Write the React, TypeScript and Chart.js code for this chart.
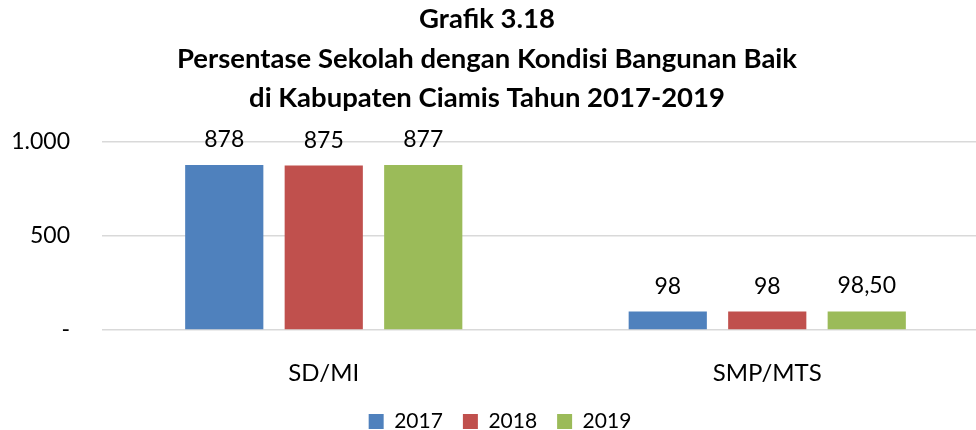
import React, { useEffect, useRef } from 'react';
import { Chart, registerables } from 'chart.js';

Chart.register(...registerables);

const titleLines = [
  'Grafik 3.18',
  'Persentase Sekolah dengan Kondisi Bangunan Baik',
  'di Kabupaten Ciamis Tahun 2017-2019',
];
const categories = ['SD/MI', 'SMP/MTS'];
const seriesNames = ['2017', '2018', '2019'];
const values2017 = [878, 98];
const values2018 = [875, 98];
const values2019 = [877, 98.5];
const labels2017 = ['878', '98'];
const labels2018 = ['875', '98'];
const labels2019 = ['877', '98,50'];
const yTickValues = [0, 500, 1000];
const yTickLabels = ['-', '500', '1.000'];
const colors = ['#4F81BD', '#C0504D', '#9BBB59'];

const FONT = 'Lato, "Open Sans", sans-serif';

const titlePlugin = {
  id: 'centeredTitle',
  afterDraw(chart: any) {
    const ctx = chart.ctx;
    ctx.save();
    ctx.font = `bold 27.5px ${FONT}`;
    ctx.fillStyle = '#000';
    ctx.textAlign = 'center';
    ctx.textBaseline = 'middle';
    titleLines.forEach((line, i) => {
      ctx.fillText(line, 487, 19.6 + i * 39.2);
    });
    ctx.restore();
  },
};

const dataLabelPlugin = {
  id: 'dataLabels',
  afterDatasetsDraw(chart: any) {
    const ctx = chart.ctx;
    const allLabels = [labels2017, labels2018, labels2019];
    ctx.save();
    ctx.font = `23px ${FONT}`;
    ctx.fillStyle = '#000';
    ctx.textAlign = 'center';
    ctx.textBaseline = 'alphabetic';
    chart.data.datasets.forEach((ds: any, i: number) => {
      const meta = chart.getDatasetMeta(i);
      meta.data.forEach((el: any, j: number) => {
        ctx.fillText(allLabels[i][j], el.x, el.y - 18);
      });
    });
    ctx.restore();
  },
};

export default function App() {
  const ref = useRef<HTMLCanvasElement>(null);
  useEffect(() => {
    if (!ref.current) return;
    const chart = new Chart(ref.current, {
      type: 'bar',
      data: {
        labels: categories,
        datasets: [values2017, values2018, values2019].map((v, i) => ({
          label: seriesNames[i],
          data: v,
          backgroundColor: colors[i],
          categoryPercentage: 0.673,
          barPercentage: 0.786,
        })),
      },
      options: {
        animation: false,
        responsive: true,
        maintainAspectRatio: false,
        layout: { padding: { left: 11, right: 12, top: 142, bottom: 0 } },
        plugins: {
          title: { display: false },
          legend: {
            position: 'bottom',
            labels: {
              color: '#000',
              font: { family: FONT, size: 21 },
              boxWidth: 15,
              boxHeight: 15,
              padding: 20,
            },
          },
          tooltip: { enabled: false },
        },
        scales: {
          x: {
            grid: { display: false },
            border: { display: false },
            afterFit: (axis: any) => {
              axis.height = 61;
            },
            ticks: { color: '#000', font: { family: FONT, size: 24 }, padding: 21 },
          },
          y: {
            min: 0,
            max: 1000,
            afterBuildTicks: (axis: any) => {
              axis.ticks = yTickValues.map((v) => ({ value: v }));
            },
            afterFit: (axis: any) => {
              axis.width = 91;
            },
            grid: { color: '#D9D9D9', drawTicks: false, lineWidth: 1.5 },
            border: { display: false },
            ticks: {
              color: '#000',
              font: { family: FONT, size: 23 },
              padding: 32,
              callback: (v: any) => yTickLabels[yTickValues.indexOf(Number(v))] ?? '',
            },
          },
        },
      },
      plugins: [dataLabelPlugin, titlePlugin],
    });
    return () => chart.destroy();
  }, []);
  return (
    <div style={{ position: 'fixed', left: 0, top: 0, width: 976, height: 430, overflow: 'hidden', background: '#fff' }}>
      <div style={{ position: 'absolute', left: 0, top: 0, width: 1001, height: 442 }}>
        <canvas ref={ref} />
      </div>
    </div>
  );
}
